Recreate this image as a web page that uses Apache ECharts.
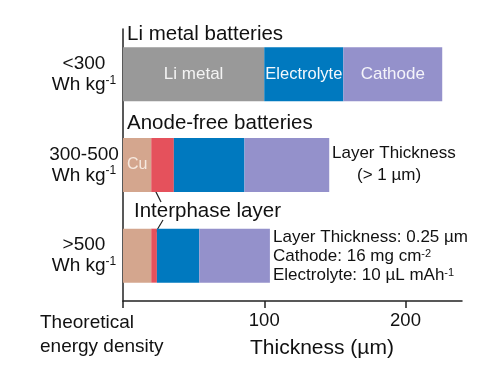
<!DOCTYPE html>
<html><head><meta charset="utf-8">
<script src="https://cdn.jsdelivr.net/npm/echarts@6/dist/echarts.min.js"></script>
<style>html,body{margin:0;padding:0;background:#fff}#c{width:494px;height:387px}</style>
</head><body><div id="c"></div>
<script>
// Data
const categories = ['<300', '300-500', '>500'];
const liMetal     = [100, 0, 0];
const cu          = [0, 20, 20];
const interphase  = [0, 16, 4];
const electrolyte = [56, 50, 30];
const cathode     = [70, 60, 50];
const xTicks = [0, 100, 200];
const xLabels = [100, 200];

const FONT = '"Liberation Sans", Arial, sans-serif';
const chart = echarts.init(document.getElementById('c'));

function seg(name, data, color, labelText, labelIdx, fs, lc) {
  return {
    name, type: 'bar', stack: 'total', data, barWidth: 54,
    itemStyle: { color },
    label: {
      show: !!labelText, position: 'inside', color: lc || '#f4f4f4',
      fontFamily: FONT, fontSize: fs || 16.5,
      formatter: p => (p.dataIndex === labelIdx ? labelText : '')
    },
    emphasis: { disabled: true }
  };
}

const option = {
  animation: false,
  grid: { left: 123, top: 29, right: 32, bottom: 86, containLabel: false },
  xAxis: {
    type: 'value', min: 0, max: 240, interval: 100,
    axisLine: { show: true, lineStyle: { color: '#222', width: 1.5 } },
    axisTick: { show: true, length: 7, lineStyle: { color: '#222', width: 1.5 }, customValues: xTicks },
    axisLabel: { color: '#111', fontFamily: FONT, fontSize: 18.5, margin: 10, customValues: xLabels,
      formatter: v => (xLabels.indexOf(v) >= 0 ? String(v) : '') },
    splitLine: { show: false }
  },
  yAxis: {
    type: 'category', data: categories, inverse: true,
    axisLine: { show: true, lineStyle: { color: '#222', width: 1.5 } },
    axisTick: { show: false },
    axisLabel: {
      align: 'center', margin: 39, fontFamily: FONT, fontSize: 19, color: '#111', lineHeight: 21,
      formatter: v => v + '\n{u|Wh kg}{s|-1}',
      rich: {
        u: { fontFamily: FONT, fontSize: 19, color: '#111', lineHeight: 21 },
        s: { fontFamily: FONT, fontSize: 12, color: '#111', verticalAlign: 'top', lineHeight: 21 }
      }
    }
  },
  series: [
    seg('Li metal', liMetal, '#999999', 'Li metal', 0, 17),
    seg('Cu', cu, '#d4a68e', 'Cu', 1, 16, '#f6e9df'),
    seg('Interphase', interphase, '#e5515c', null, -1),
    seg('Electrolyte', electrolyte, '#0079bf', 'Electrolyte', 0, 16.5, '#f4f8fc'),
    seg('Cathode', cathode, '#9491cb', 'Cathode', 0, 17, '#f4f4fa')
  ],
  graphic: [
    { type: 'text', left: 127, top: 24, style: { text: 'Li metal batteries', font: '20.5px ' + FONT, fill: '#111' } },
    { type: 'text', left: 127, top: 113, style: { text: 'Anode-free batteries', font: '20.5px ' + FONT, fill: '#111' } },
    { type: 'text', left: 134, top: 201, style: { text: 'Interphase layer', font: '20.5px ' + FONT, fill: '#111' } },
    { type: 'line', shape: { x1: 154, y1: 188, x2: 161, y2: 202 }, style: { stroke: '#222', lineWidth: 1.2 } },
    { type: 'line', shape: { x1: 163, y1: 220, x2: 154, y2: 235 }, style: { stroke: '#222', lineWidth: 1.2 } },
    { type: 'text', left: 332, top: 145, style: { text: 'Layer Thickness', font: '17px ' + FONT, fill: '#111' } },
    { type: 'text', left: 357, top: 167, style: { text: '(> 1 µm)', font: '17px ' + FONT, fill: '#111' } },
    { type: 'text', left: 273, top: 229, style: { text: 'Layer Thickness: 0.25 µm', font: '17px ' + FONT, fill: '#111' } },
    { type: 'text', left: 273, top: 248, style: { text: 'Cathode: 16 mg cm{s|-2}', font: '17px ' + FONT, fill: '#111',
        rich: { s: { fontSize: 11, fontFamily: FONT, verticalAlign: 'top', fill: '#111' } } } },
    { type: 'text', left: 273, top: 267, style: { text: 'Electrolyte: 10 µL mAh{s|-1}', font: '17px ' + FONT, fill: '#111',
        rich: { s: { fontSize: 11, fontFamily: FONT, verticalAlign: 'top', fill: '#111' } } } },
    { type: 'text', left: 40, top: 311, style: { text: 'Theoretical\nenergy density', font: '19px ' + FONT, fill: '#111', lineHeight: 24 } },
    { type: 'text', left: 250, top: 338, style: { text: 'Thickness (µm)', font: '21px ' + FONT, fill: '#111' } }
  ]
};
chart.setOption(option);
</script></body></html>
